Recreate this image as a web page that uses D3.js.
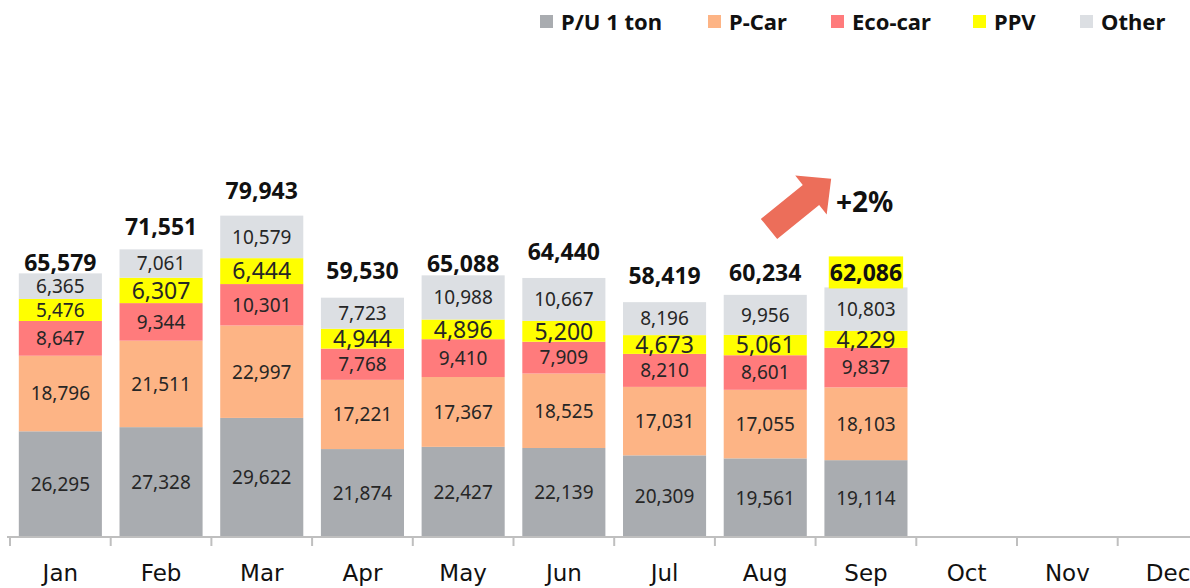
<!DOCTYPE html>
<html>
<head>
<meta charset="utf-8">
<script src="https://cdn.jsdelivr.net/npm/d3@7"></script>
<style>
  body { margin: 0; background: #fff; }
  svg { display: block; }
  .num { font-family: "Noto Sans", sans-serif; fill: #262626; }
</style>
</head>
<body>
<div id="chart"></div>
<script>
// data
const months = ["Jan", "Feb", "Mar", "Apr", "May", "Jun", "Jul", "Aug", "Sep", "Oct", "Nov", "Dec"];
const seriesNames = ["P/U 1 ton", "P-Car", "Eco-car", "PPV", "Other"];
const puOneTon = [26295, 27328, 29622, 21874, 22427, 22139, 20309, 19561, 19114];
const pCar = [18796, 21511, 22997, 17221, 17367, 18525, 17031, 17055, 18103];
const ecoCar = [8647, 9344, 10301, 7768, 9410, 7909, 8210, 8601, 9837];
const ppv = [5476, 6307, 6444, 4944, 4896, 5200, 4673, 5061, 4229];
const other = [6365, 7061, 10579, 7723, 10988, 10667, 8196, 9956, 10803];
const totals = [65579, 71551, 79943, 59530, 65088, 64440, 58419, 60234, 62086];
const growthLabel = "+2%";

// how far each total label sits above its bar (px), as placed in the original
const totalLift = [11, 23, 25, 27, 12, 26, 26, 22, 15];

const colors = ["#A9ACB0", "#FDB485", "#FF7B7C", "#FFFF00", "#DCDFE3"];

const W = 1190, H = 588;
const svg = d3.select("#chart").append("svg")
  .attr("width", W)
  .attr("height", H);

// build rows for the stack
const rows = puOneTon.map((v, i) => ({
  month: months[i],
  "P/U 1 ton": v,
  "P-Car": pCar[i],
  "Eco-car": ecoCar[i],
  "PPV": ppv[i],
  "Other": other[i]
}));

const x = d3.scaleBand()
  .domain(months)
  .range([10, 10 + 12 * 100.7])
  .paddingInner(0.175)
  .paddingOuter(0.0875);

const y = d3.scaleLinear()
  .domain([0, 100000])
  .range([537, 135]);

const stacked = d3.stack().keys(seriesNames)(rows);

// bars
const layers = svg.selectAll("g.layer")
  .data(stacked)
  .enter()
  .append("g")
  .attr("class", "layer")
  .attr("fill", (d, i) => colors[i]);

layers.selectAll("rect")
  .data(d => d)
  .enter()
  .append("rect")
  .attr("x", d => x(d.data.month))
  .attr("y", d => y(d[1]))
  .attr("width", x.bandwidth())
  .attr("height", d => y(d[0]) - y(d[1]));

// segment labels
layers.each(function (layer, li) {
  d3.select(this).selectAll("text")
    .data(layer)
    .enter()
    .append("text")
    .attr("class", "num")
    .attr("x", d => x(d.data.month) + x.bandwidth() / 2)
    .attr("y", d => (y(d[0]) + y(d[1])) / 2)
    .attr("dy", "0.36em")
    .attr("text-anchor", "middle")
    .style("font-size", (d, i) => (layer.key === "PPV" && i > 0) ? "23px" : "19px")
    .text(d => d3.format(",")(d[1] - d[0]));
});

// totals on top
const last = stacked[stacked.length - 1];
const totalG = svg.append("g");
totals.forEach((t, i) => {
  const cx = x(months[i]) + x.bandwidth() / 2;
  const cy = y(last[i][1]) - totalLift[i];
  const label = totalG.append("text")
    .attr("class", "num")
    .attr("x", cx)
    .attr("y", cy)
    .attr("dy", "0.36em")
    .attr("text-anchor", "middle")
    .style("font-size", "23px")
    .style("font-weight", "bold")
    .style("fill", "#111")
    .text(d3.format(",")(t));
  if (i === totals.length - 1) {
    const bb = label.node().getBBox();
    totalG.insert("rect", "text")
      .attr("x", bb.x - 1)
      .attr("y", cy - 16)
      .attr("width", bb.width + 2)
      .attr("height", 32)
      .attr("fill", "#FFFF00");
  }
});

// x axis
const axis = svg.append("g")
  .attr("transform", "translate(0,537)")
  .call(d3.axisBottom(x).tickSize(0).tickPadding(28));
axis.select(".domain").attr("stroke", "#BFBFBF").attr("stroke-width", 2)
  .attr("d", "M7,0H" + W);
axis.selectAll(".tick text")
  .style("font-family", "Tahoma, 'DejaVu Sans', sans-serif")
  .style("font-size", "23px")
  .style("fill", "#111");

const step = x.step();
axis.selectAll("line.boundary")
  .data(months)
  .enter()
  .append("line")
  .attr("class", "boundary")
  .attr("x1", d => x(d) - step * x.paddingInner() / 2)
  .attr("x2", d => x(d) - step * x.paddingInner() / 2)
  .attr("y1", 0)
  .attr("y2", 9)
  .attr("stroke", "#BFBFBF")
  .attr("stroke-width", 2);

// growth arrow
const arrow = svg.append("g")
  .attr("transform", "translate(769,229) rotate(-39)");
arrow.append("path")
  .attr("d", "M0,-13 L54,-13 L54,-25 L80,0 L54,25 L54,13 L0,13 Z")
  .attr("fill", "#EC6E5A");

svg.append("text")
  .attr("class", "num")
  .attr("x", 836)
  .attr("y", 212)
  .style("font-size", "28px")
  .style("font-weight", "bold")
  .style("fill", "#111")
  .text(growthLabel);

// legend
const legendX = [540, 708, 831, 973, 1080];
const legend = svg.selectAll("g.legend")
  .data(seriesNames)
  .enter()
  .append("g")
  .attr("class", "legend")
  .attr("transform", (d, i) => `translate(${legendX[i]},15)`);
legend.append("rect")
  .attr("width", 13)
  .attr("height", 13)
  .attr("fill", (d, i) => colors[i]);
legend.append("text")
  .attr("class", "num")
  .attr("x", 21)
  .attr("y", 7)
  .attr("dy", "0.36em")
  .style("font-size", "22px")
  .style("font-weight", "bold")
  .style("fill", "#111")
  .text(d => d);
</script>
</body>
</html>
